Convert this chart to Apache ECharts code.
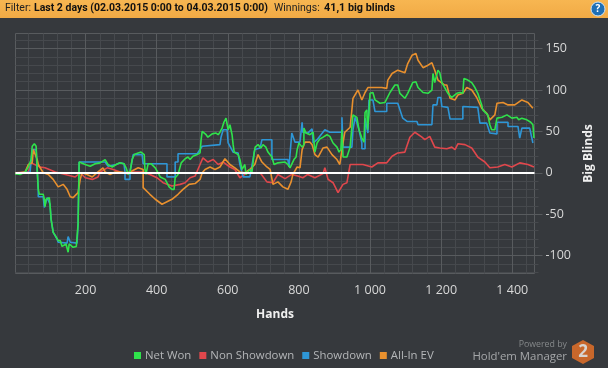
<!DOCTYPE html>
<html><head><meta charset="utf-8">
<style>html,body{margin:0;padding:0;background:#36393d}#c{width:608px;height:368px}</style>
<script src="https://cdn.jsdelivr.net/npm/echarts@6/dist/echarts.min.js"></script>
</head><body><div id="c"></div>
<script>
const netWon=[[2,-1],[16,-2],[30,1],[39,7],[44,6],[47,16],[50,32],[56,35],[61,32],[64,4],[67,-20],[70,-26],[81,-26],[84,-32],[86,-41],[89,-32],[98,-30],[100,-38],[103,-56],[109,-72],[115,-76],[120,-76],[123,-82],[129,-82],[134,-89],[145,-86],[151,-96],[154,-86],[165,-90],[174,-89],[179,-62],[182,13],[185,12],[199,10],[213,8],[227,11],[241,12],[255,16],[263,10],[275,7],[286,10],[297,12],[308,11],[314,6],[320,-2],[325,1],[331,16],[337,22],[348,24],[356,25],[365,22],[367,4],[370,-2],[376,11],[384,11],[396,6],[404,0],[410,-5],[424,-8],[429,-10],[435,-17],[443,-20],[449,-20],[452,-6],[460,-2],[463,0],[469,12],[480,17],[488,19],[494,16],[502,20],[514,22],[522,24],[525,40],[528,50],[539,46],[544,43],[556,47],[567,48],[573,46],[578,49],[584,54],[589,61],[595,66],[601,52],[606,58],[612,46],[615,34],[618,25],[629,22],[634,16],[640,4],[643,4],[648,10],[651,-2],[662,4],[668,1],[671,12],[674,24],[677,31],[685,34],[693,30],[699,34],[707,31],[713,25],[724,19],[730,10],[733,12],[741,12],[761,13],[769,10],[775,6],[780,4],[786,16],[792,19],[795,28],[800,36],[809,31],[814,34],[814,54],[820,48],[831,46],[840,49],[845,25],[851,36],[859,41],[868,43],[879,46],[887,44],[896,36],[907,31],[913,25],[918,28],[921,52],[924,19],[935,19],[944,31],[952,70],[963,67],[969,52],[977,42],[983,37],[986,73],[991,76],[993,52],[997,72],[1000,96],[1008,97],[1014,88],[1028,84],[1042,85],[1047,84],[1056,97],[1070,106],[1078,106],[1084,96],[1098,90],[1106,96],[1120,109],[1129,110],[1135,103],[1149,97],[1163,96],[1174,100],[1177,120],[1182,109],[1191,124],[1196,121],[1202,109],[1210,103],[1219,96],[1230,91],[1244,96],[1253,97],[1261,96],[1264,114],[1275,112],[1286,109],[1295,103],[1303,96],[1314,82],[1317,76],[1331,70],[1337,58],[1342,52],[1351,52],[1357,66],[1371,67],[1385,70],[1399,66],[1413,67],[1418,64],[1427,66],[1441,64],[1452,61],[1458,58],[1461,42]];
const nonShowdown=[[2,0],[39,1],[47,12],[72,7],[86,6],[115,1],[143,-2],[171,-5],[185,0],[199,-6],[219,-8],[235,-5],[241,1],[261,6],[278,4],[297,1],[317,-1],[334,1],[362,1],[381,-2],[401,-6],[418,-12],[443,-16],[466,-14],[480,-12],[494,-6],[508,-4],[522,10],[530,18],[544,13],[559,16],[573,10],[587,13],[606,7],[620,4],[634,-6],[654,0],[671,0],[691,0],[710,-11],[727,-12],[741,-2],[761,-7],[780,-2],[797,-4],[811,-6],[825,-2],[845,-6],[868,-1],[873,6],[882,-8],[896,-12],[910,-24],[924,-14],[935,-12],[944,10],[949,10],[980,10],[1005,7],[1022,12],[1047,12],[1062,20],[1078,24],[1098,25],[1112,43],[1126,49],[1146,43],[1154,40],[1168,44],[1182,31],[1196,30],[1216,29],[1230,31],[1239,28],[1247,35],[1267,34],[1286,30],[1303,19],[1323,13],[1337,6],[1359,7],[1379,10],[1399,7],[1421,12],[1444,10],[1461,7]];
const showdown=[[2,-1],[44,1],[50,28],[61,28],[64,4],[67,-20],[67,-29],[81,-29],[84,-42],[89,-42],[92,-30],[100,-38],[103,-56],[109,-72],[120,-80],[123,-84],[148,-85],[151,-77],[157,-84],[176,-85],[179,-62],[182,13],[255,13],[263,8],[286,10],[297,12],[308,11],[311,1],[311,-8],[325,-8],[325,1],[334,22],[359,22],[362,11],[429,11],[429,-5],[452,-5],[452,13],[460,13],[460,23],[514,23],[528,32],[578,34],[581,43],[587,52],[598,52],[601,36],[615,25],[629,24],[634,10],[643,-5],[662,-5],[676,28],[691,30],[696,40],[724,40],[724,16],[769,16],[772,7],[780,48],[789,37],[803,37],[809,61],[811,49],[825,48],[837,53],[840,36],[851,40],[873,52],[887,49],[921,49],[921,67],[924,31],[949,31],[952,52],[958,67],[969,52],[977,36],[977,29],[986,29],[986,66],[994,48],[997,88],[1008,88],[1014,74],[1047,74],[1047,84],[1078,84],[1092,66],[1104,62],[1132,62],[1135,58],[1174,58],[1177,82],[1188,82],[1191,91],[1199,91],[1202,80],[1219,79],[1225,65],[1261,65],[1261,80],[1303,79],[1309,60],[1328,60],[1337,48],[1357,47],[1357,61],[1388,61],[1388,56],[1416,56],[1421,42],[1427,54],[1449,54],[1458,36]];
const allInEV=[[2,-1],[30,1],[39,10],[50,12],[53,28],[64,16],[67,10],[81,0],[95,-2],[109,-8],[123,-17],[137,-14],[148,-20],[157,-29],[165,-30],[179,-24],[185,-8],[190,0],[204,-2],[219,-5],[235,1],[249,6],[255,1],[269,-2],[283,1],[297,1],[311,0],[325,1],[348,6],[362,4],[362,-18],[381,-26],[396,-32],[415,-38],[429,-35],[443,-32],[460,-26],[474,-20],[491,-14],[508,-13],[522,-8],[528,0],[536,4],[550,7],[564,4],[578,7],[592,17],[606,10],[620,6],[634,1],[648,0],[662,4],[676,10],[685,22],[696,13],[710,7],[719,4],[727,-14],[741,-11],[755,-17],[769,-20],[778,-11],[783,-2],[795,7],[803,6],[809,28],[817,37],[831,37],[837,34],[845,22],[854,19],[868,30],[879,31],[893,22],[907,16],[915,10],[921,28],[929,49],[944,55],[949,76],[952,90],[966,100],[977,88],[986,97],[994,103],[1008,103],[1033,103],[1047,102],[1050,112],[1062,120],[1078,124],[1098,121],[1106,132],[1118,142],[1129,144],[1135,136],[1149,127],[1163,130],[1174,133],[1182,124],[1191,112],[1210,106],[1216,106],[1225,90],[1239,88],[1247,94],[1261,96],[1272,103],[1286,100],[1300,91],[1314,78],[1328,72],[1337,64],[1351,70],[1357,84],[1374,85],[1388,82],[1407,82],[1427,88],[1444,85],[1458,78]];
const xMajor=[200,400,600,800,1000,1200,1400];
const xMinor=[40,80,120,160,240,280,320,360,440,480,520,560,640,680,720,760,840,880,920,960,1040,1080,1120,1160,1240,1280,1320,1360,1440];
const yMajor=[-100,-50,0,50,100,150];
const yMinor=[-120,-110,-90,-80,-70,-60,-40,-30,-20,-10,10,20,30,40,60,70,80,90,110,120,130,140,160];
const xMin=3,xMax=1462.5,yMin=-121.7,yMax=168.3;
const BG='#36393d',MAJ='#585b5e',MIN='#46494d';
const fmt=v=>{const s=String(Math.abs(v));const t=s.length>3?s.slice(0,-3)+' '+s.slice(-3):s;return (v<0?'-':'')+t;};
const ff='"Open Sans",sans-serif',hf='Roboto,sans-serif';
const line=(name,data,color,z)=>({name,type:'line',data,z,symbol:'none',smooth:false,animation:false,silent:true,lineStyle:{color,width:1.6},itemStyle:{color}});
const hide={axisLine:{show:false},splitLine:{show:false},axisLabel:{show:false}};
const gridMarks=[
 ...xMinor.map(v=>({xAxis:v,lineStyle:{color:MIN,width:1,type:'solid'}})),
 ...yMinor.map(v=>({yAxis:v,lineStyle:{color:MIN,width:1,type:'solid'}})),
 ...xMajor.map(v=>({xAxis:v,lineStyle:{color:MAJ,width:1,type:'solid'}})),
 ...yMajor.map(v=>({yAxis:v,lineStyle:{color:MAJ,width:1,type:'solid'}}))];
const chart=echarts.init(document.getElementById('c'),null,{renderer:'canvas'});
chart.setOption({
 backgroundColor:BG,animation:false,
 grid:{left:15.5,right:73.5,top:33.5,bottom:94.5,show:true,borderColor:MAJ,borderWidth:1,backgroundColor:'transparent'},
 legend:{data:['Net Won','Non Showdown','Showdown','All-In EV'],left:129,top:345,itemWidth:7,itemHeight:7,itemGap:8,icon:'rect',selectedMode:false,
  textStyle:{color:'#b4b6b8',fontFamily:ff,fontSize:11.4,padding:[0,0,0,-1]}},
 xAxis:[
  {type:'value',min:xMin,max:xMax,name:'Hands',nameLocation:'middle',nameGap:35,nameTextStyle:{color:'#f0f0f0',fontWeight:'bold',fontSize:12,fontFamily:ff},
   axisLine:{show:false},splitLine:{show:false},axisTick:{show:true,customValues:xMajor,length:4,lineStyle:{color:MAJ}},
   axisLabel:{show:true,customValues:xMajor,formatter:fmt,color:'#d8d8d8',fontSize:12.5,fontFamily:ff,margin:10}},
  {type:'value',min:xMin,max:xMax,position:'bottom',...hide,axisTick:{show:true,customValues:xMinor,length:4,lineStyle:{color:MIN}}}],
 yAxis:[
  {type:'value',min:yMin,max:yMax,position:'right',name:'Big Blinds',nameLocation:'middle',nameGap:48,nameMoveOverlap:false,nameRotate:90,nameTextStyle:{color:'#f0f0f0',fontWeight:'bold',fontSize:12,fontFamily:ff},
   axisLine:{show:false},splitLine:{show:false},axisTick:{show:true,customValues:yMajor,length:8,lineStyle:{color:MAJ}},
   axisLabel:{show:true,customValues:yMajor,formatter:fmt,color:'#d8d8d8',fontSize:12.5,fontFamily:ff,margin:11}},
  {type:'value',min:yMin,max:yMax,position:'right',...hide,axisTick:{show:true,customValues:yMinor,length:4,lineStyle:{color:MIN}}}],
 series:[
  {type:'line',data:[],z:1,silent:true,markLine:{silent:true,symbol:'none',animation:false,label:{show:false},data:gridMarks,z:1}},
  Object.assign(line('Net Won',netWon,'#2fe24b',8),{markLine:{silent:true,symbol:'none',animation:false,z:20,label:{show:false},data:[{yAxis:0,lineStyle:{color:'#ffffff',width:2,type:'solid'}}]}}),
  line('Non Showdown',nonShowdown,'#e0474c',5),
  line('Showdown',showdown,'#2e96d6',6),
  line('All-In EV',allInEV,'#e8902e',7)],
 color:['#1ff53d','#ff4d4f','#2fa5ec','#ff9a2e'],
 graphic:[
  {type:'rect',z:100,shape:{x:0,y:0,width:608,height:18},style:{fill:new echarts.graphic.LinearGradient(0,0,0,1,[{offset:0,color:'#f7b651'},{offset:1,color:'#f1aa45'}])}},
  {type:'text',z:101,x:5,y:3,style:{text:'Filter:',fill:'#222',font:'10.5px '+hf}},
  {type:'text',z:101,x:34,y:3,style:{text:'Last 2 days (02.03.2015 0:00 to 04.03.2015 0:00)',fill:'#111',font:'bold 10.5px '+hf}},
  {type:'text',z:101,x:274,y:3,style:{text:'Winnings:',fill:'#222',font:'10.5px '+hf}},
  {type:'text',z:101,x:324,y:3,style:{text:'41,1 big blinds',fill:'#111',font:'bold 10.8px '+hf}},
  {type:'circle',z:101,shape:{cx:598,cy:9,r:7},style:{fill:'#1f6fb5',stroke:'#cfe3f3',lineWidth:1}},
  {type:'text',z:102,x:598,y:9,style:{text:'?',fill:'#fff',font:'bold 10px '+ff,align:'center',verticalAlign:'middle'}},
  {type:'text',z:101,x:567,y:344,style:{text:'Powered by',fill:'#85888a',font:'8.8px '+ff,align:'right',verticalAlign:'middle'}},
  {type:'text',z:101,x:567,y:357,style:{text:"Hold'em Manager",fill:'#a5a7a9',font:'11.4px '+ff,align:'right',verticalAlign:'middle'}},
  {type:'polygon',z:101,shape:{points:[[583,340],[594,346],[594,358],[583,364],[572,358],[572,346]]},style:{fill:'#c8672b'}},
  {type:'text',z:102,x:583,y:352,style:{text:'2',fill:'#d8d4d0',font:'bold 17px '+ff,align:'center',verticalAlign:'middle'}}
 ]
});
</script></body></html>
